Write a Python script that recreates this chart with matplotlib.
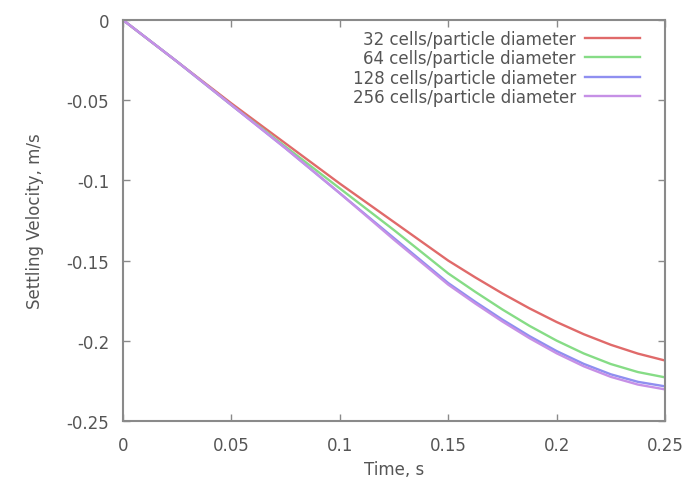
import matplotlib
matplotlib.use('Agg')
import matplotlib.pyplot as plt

# time, s
time = [0, 0.025, 0.05, 0.075, 0.1, 0.125, 0.15,
        0.1625, 0.175, 0.1875, 0.2, 0.2125, 0.225, 0.2375, 0.25]

# settling velocity, m/s
v32 = [0, -0.026, -0.052, -0.077, -0.102, -0.126, -0.150,
       -0.1605, -0.1705, -0.1798, -0.1883, -0.1959, -0.2025, -0.2080, -0.2123]
v64 = [0, -0.026, -0.053, -0.079, -0.105, -0.131, -0.158,
       -0.1695, -0.1805, -0.1907, -0.1999, -0.2079, -0.2145, -0.2195, -0.2228]
v128 = [0, -0.026, -0.053, -0.080, -0.108, -0.136, -0.164,
        -0.1757, -0.1868, -0.1971, -0.2064, -0.2144, -0.2209, -0.2256, -0.2284]
v256 = [0, -0.026, -0.053, -0.080, -0.108, -0.137, -0.165,
        -0.1768, -0.1880, -0.1984, -0.2078, -0.2159, -0.2225, -0.2273, -0.2303]

labels = ['32 cells/particle diameter', '64 cells/particle diameter',
          '128 cells/particle diameter', '256 cells/particle diameter']
colors = ['#e06a6a', '#86dc86', '#8f8ff0', '#c690e6']

xticks = [0, 0.05, 0.1, 0.15, 0.2, 0.25]
xticklabels = ['0', '0.05', '0.1', '0.15', '0.2', '0.25']
yticks = [0, -0.05, -0.1, -0.15, -0.2, -0.25]
yticklabels = ['0', '-0.05', '-0.1', '-0.15', '-0.2', '-0.25']

plt.rcParams['font.family'] = ['DejaVu Sans']
txt = '#555555'

fig = plt.figure(figsize=(6.88, 4.81), dpi=100)
ax = fig.add_axes([0.1788, 0.1227, 0.7878, 0.8336])

for v, lab, c in zip([v32, v64, v128, v256], labels, colors):
    ax.plot(time, v, color=c, linewidth=1.7, label=lab)

ax.set_xlim(0, 0.25)
ax.set_ylim(-0.25, 0)
ax.set_xticks(xticks)
ax.set_xticklabels(xticklabels)
ax.set_yticks(yticks)
ax.set_yticklabels(yticklabels)

for s in ax.spines.values():
    s.set_color('#8a8a8a')
    s.set_linewidth(1.5)
ax.tick_params(direction='in', length=5, width=1, color='#8a8a8a',
               top=True, right=True, labelsize=12, labelcolor=txt)
ax.tick_params(axis='x', pad=11)
ax.tick_params(axis='y', pad=10)

ax.set_xlabel('Time, s', fontsize=12, color=txt, labelpad=4)
ax.set_ylabel('Settling Velocity, m/s', fontsize=12, color=txt, labelpad=16)

leg = ax.legend(loc='upper right', frameon=False, markerfirst=False,
                alignment='right', fontsize=12, handlelength=3.3,
                labelspacing=0.08, handletextpad=0.55,
                borderpad=0, borderaxespad=0,
                bbox_to_anchor=(0.954, 0.9755))
for t in leg.get_texts():
    t.set_color(txt)

fig.savefig('out.png', dpi=100)
